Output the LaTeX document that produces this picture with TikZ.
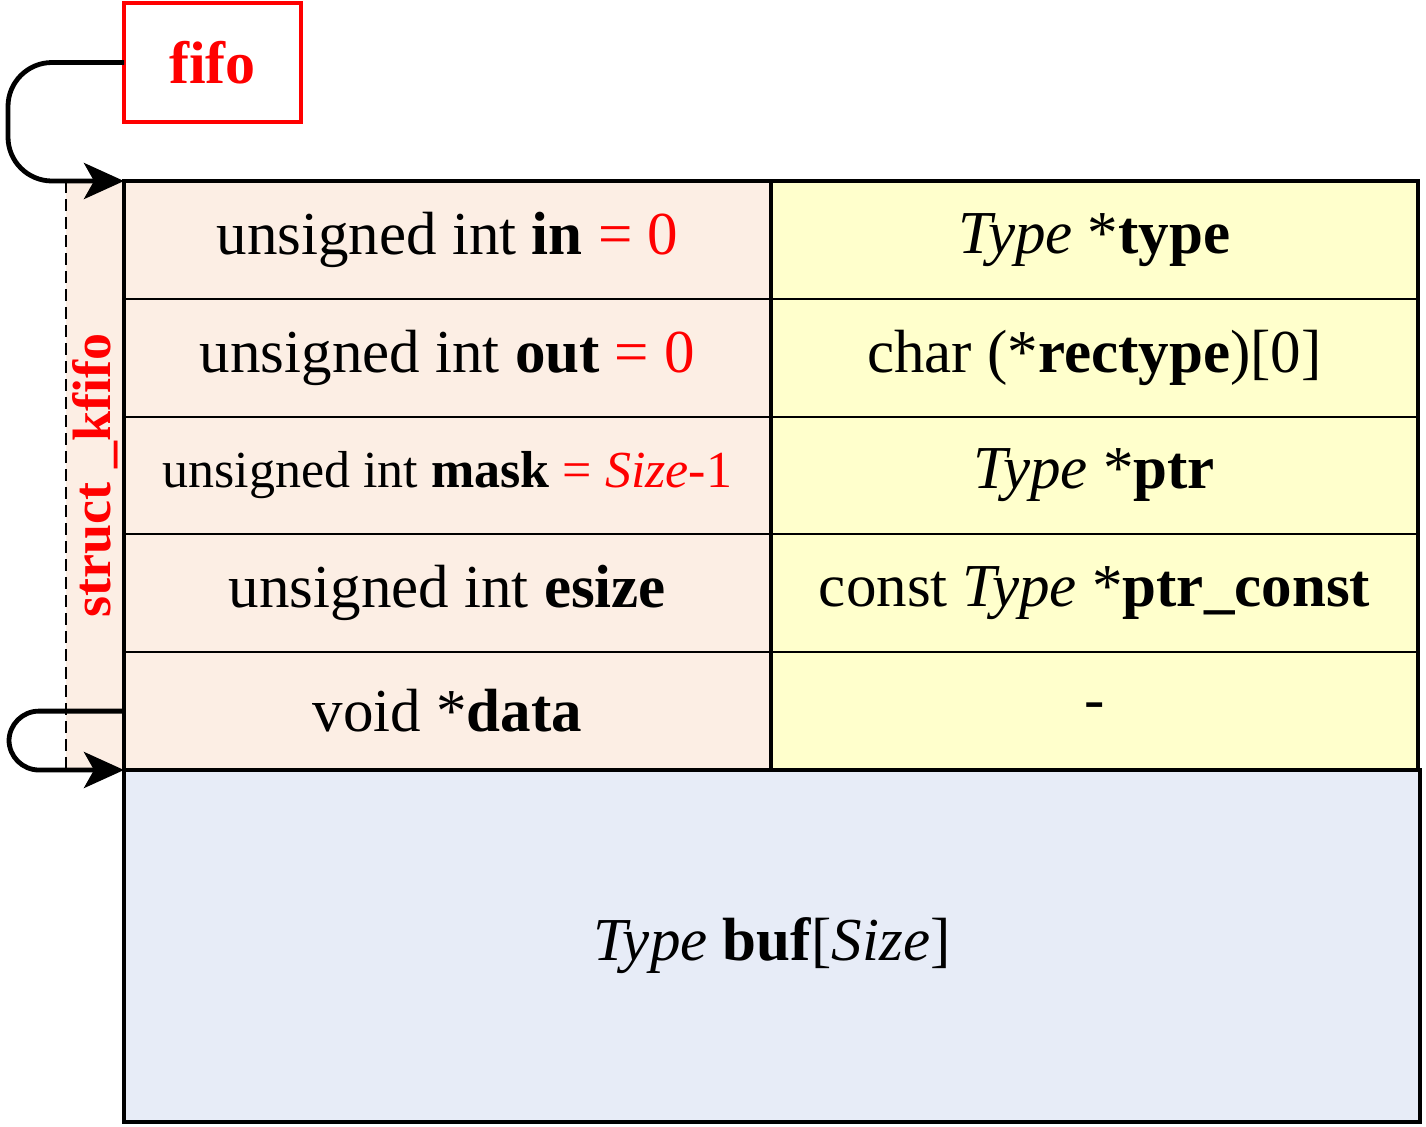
\documentclass[tikz,border=0pt]{standalone}
\usepackage{fontspec}
\setmainfont{Liberation Serif}
\usetikzlibrary{positioning, arrows.meta}

\definecolor{leftfill}{HTML}{FCEEE4}
\definecolor{rightfill}{HTML}{FFFFCC}
\definecolor{buffill}{HTML}{E7ECF7}
\definecolor{fifored}{HTML}{FF0000}

\newcommand{\cellfont}{\fontsize{30.5}{36}\selectfont}

\begin{document}
\begin{tikzpicture}[x=0.5pt, y=-0.5pt,
    lcell/.style={draw, line width=1pt, fill=leftfill, rectangle, outer sep=0pt, inner sep=0pt, minimum width=323.5pt, minimum height=58.9pt, font=\cellfont},
    rcell/.style={lcell, fill=rightfill},
    ptr/.style={-{Stealth[length=20pt, width=18pt, inset=5pt]}, line width=2.4pt, rounded corners=22pt}]
    \useasboundingbox (0, 0) rectangle (1426, 1126);

    \node (fifo) [draw=fifored, line width=2pt, rectangle, outer sep=0pt, minimum width=88.5pt, minimum height=59.5pt, anchor=north west, text=fifored, font=\fontsize{30}{34}\selectfont\bfseries] at (124, 3) {fifo};

    \node (cin) [lcell, anchor=north west] at (124, 181) {unsigned int \textbf{in} \textcolor{fifored}{= 0}};
    \node (cout) [lcell, below=0pt of cin] {unsigned int \textbf{out} \textcolor{fifored}{= 0}};
    \node (cmask) [lcell, below=0pt of cout, font=\fontsize{26}{30}\selectfont] {unsigned int \textbf{mask} \textcolor{fifored}{= \textit{Size}-1}};
    \node (cesize) [lcell, below=0pt of cmask] {unsigned int \textbf{esize}};
    \node (cdata) [lcell, below=0pt of cesize] {void *\textbf{data}};

    \node (rtype) [rcell, right=0pt of cin] {\textit{Type} *\textbf{type}};
    \node (rrectype) [rcell, right=0pt of cout] {char (*\textbf{rectype})[0]};
    \node (rptr) [rcell, right=0pt of cmask] {\textit{Type} *\textbf{ptr}};
    \node (rconst) [rcell, right=0pt of cesize] {const \textit{Type} *\textbf{ptr\_const}};
    \node (rnone) [rcell, right=0pt of cdata] {-};

    \node (buf) [lcell, fill=buffill, line width=2pt, minimum width=648pt, minimum height=176pt, anchor=north west] at (cdata.south west) {\textit{Type} \textbf{buf}[\textit{Size}]};

    % outer frame of the struct
    \draw [line width=2pt] (cin.north west) rectangle (rnone.south east);
    \draw [line width=2pt] (cin.north east) -- (cdata.south east);

    % struct label strip
    \node (strip) [fill=leftfill, rectangle, outer sep=0pt, minimum width=29pt, minimum height=294.5pt, anchor=north east] at (cin.north west) {};
    \draw [dash pattern=on 6pt off 3pt, line width=0.8pt] (strip.north west) -- (strip.south west);
    \draw [line width=2pt] (cin.north west) -- (cdata.south west);
    \node (label) [rotate=90, text=fifored, font=\fontsize{27}{30}\selectfont\bfseries] at (strip.center) {struct \_kfifo};

    \coordinate (bendx) at (8, 0);
    \coordinate (loopx) at (9, 0);
    \draw [ptr] (fifo.west) -- (fifo.west -| bendx) -- (cin.north west -| bendx) -- (cin.north west);
    \draw [ptr, rounded corners=15pt] (cdata.west) -- (cdata.west -| loopx) -- (buf.north west -| loopx) -- (buf.north west);
\end{tikzpicture}
\end{document}
